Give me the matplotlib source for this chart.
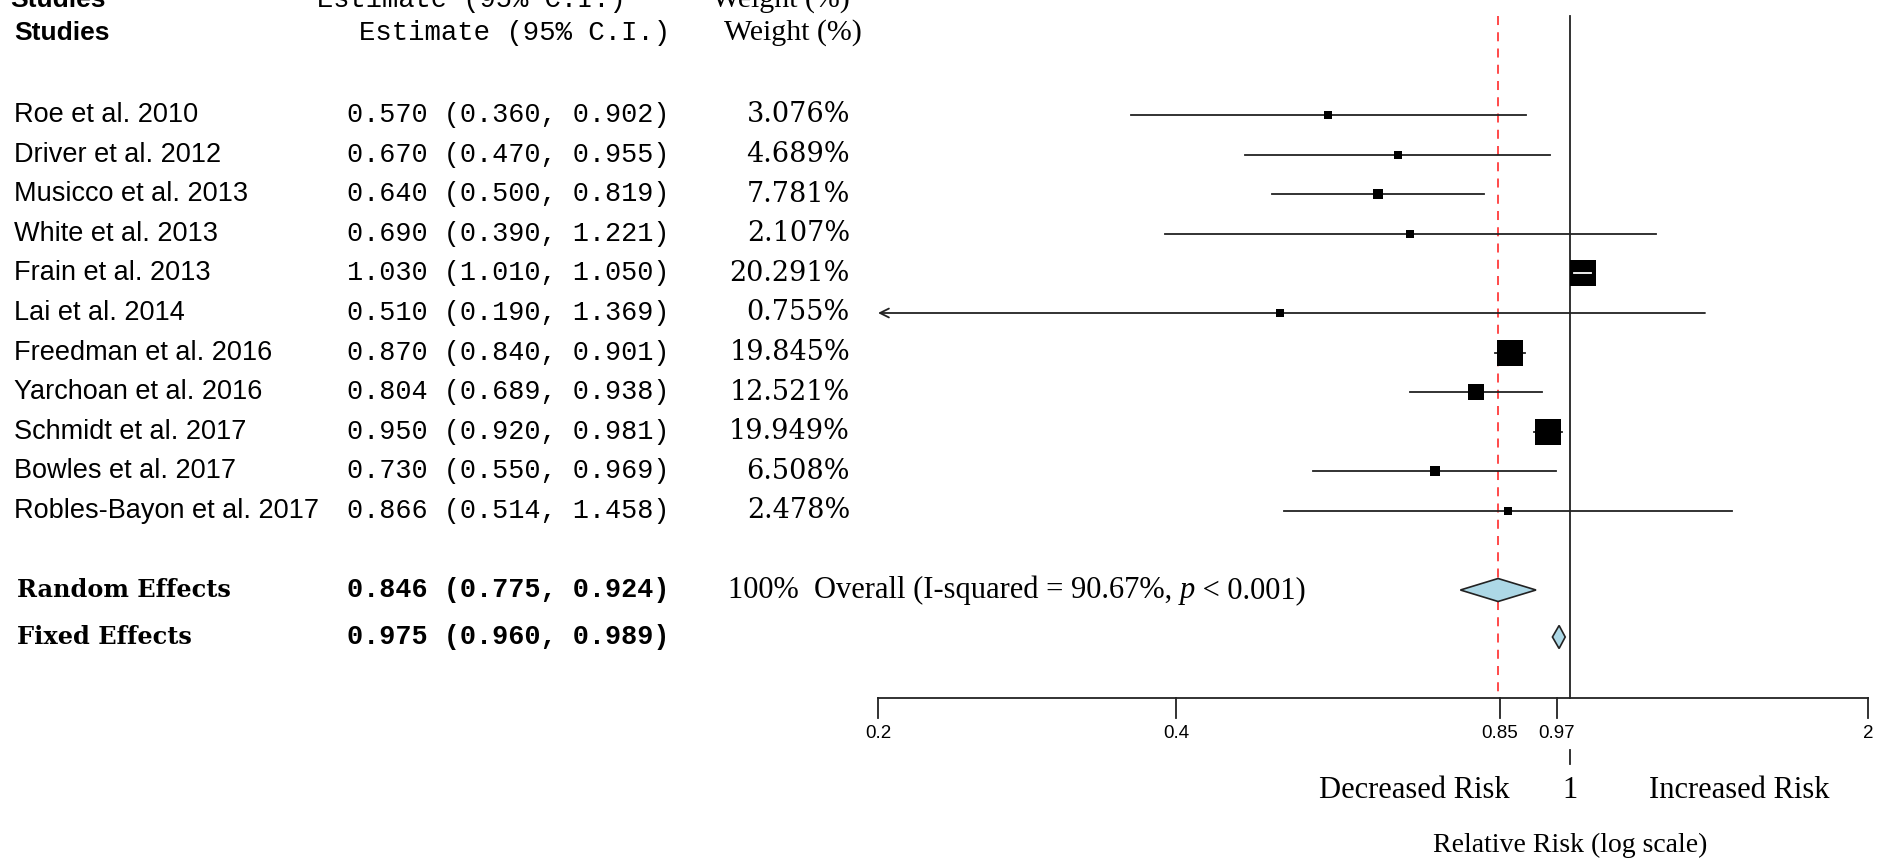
import matplotlib.pyplot as plt
from matplotlib.patches import Polygon
import numpy as np

# Study level data
studies = ['Roe et al. 2010', 'Driver et al. 2012', 'Musicco et al. 2013',
           'White et al. 2013', 'Frain et al. 2013', 'Lai et al. 2014',
           'Freedman et al. 2016', 'Yarchoan et al. 2016', 'Schmidt et al. 2017',
           'Bowles et al. 2017', 'Robles-Bayon et al. 2017']
est = [0.570, 0.670, 0.640, 0.690, 1.030, 0.510, 0.870, 0.804, 0.950, 0.730, 0.866]
lower = [0.360, 0.470, 0.500, 0.390, 1.010, 0.190, 0.840, 0.689, 0.920, 0.550, 0.514]
upper = [0.902, 0.955, 0.819, 1.221, 1.050, 1.369, 0.901, 0.938, 0.981, 0.969, 1.458]
weights = [3.076, 4.689, 7.781, 2.107, 20.291, 0.755, 19.845, 12.521, 19.949, 6.508, 2.478]

# Pooled estimates
summary_labels = ['Random Effects', 'Fixed Effects']
summary_est = [0.846, 0.975]
summary_lower = [0.775, 0.960]
summary_upper = [0.924, 0.989]
i_squared = 90.67

tick_values = [0.2, 0.4, 0.85, 0.97, 2]
tick_labels = ['0.2', '0.4', '0.85', '0.97', '2']

W, H = 1877, 858
fig = plt.figure(figsize=(W / 100, H / 100), dpi=100)

# background axes in pixel units for the text columns
bg = fig.add_axes([0, 0, 1, 1])
bg.set_xlim(0, W)
bg.set_ylim(H, 0)
bg.axis('off')

# forest panel, log x axis
ax = fig.add_axes([878 / W, 0, 990 / W, 1])
ax.set_xscale('log')
ax.set_xlim(0.2, 2)
ax.set_ylim(H, 0)
ax.axis('off')

INK = '#222222'
row_y = 115 + 39.6 * np.arange(len(studies))
sum_y = [590, 637]
axis_y = 698
top_y = 16

# header, plus the clipped copy peeking in at the top edge
bg.text(10, 7, 'Studies', family='Liberation Sans', fontweight='bold', fontsize=19, va='baseline')
bg.text(317, 7, 'Estimate (95% C.I.)', family='Liberation Mono', fontsize=19.5, va='baseline')
bg.text(712, 7, 'Weight (%)', family='Liberation Serif', fontsize=21.5, va='baseline')

bg.text(14, 33, 'Studies', family='Liberation Sans', fontweight='bold', fontsize=19, va='center')
bg.text(359, 33, 'Estimate (95% C.I.)', family='Liberation Mono', fontsize=19.7, va='center')
bg.text(724, 33, 'Weight (%)', family='Liberation Serif', fontsize=21.5, va='center')

# reference lines
ax.plot([1, 1], [top_y, axis_y], color=INK, lw=1.3, clip_on=False)
ax.plot([summary_est[0]] * 2, [top_y, axis_y], color='#ff3b3b', lw=1.3,
        ls=(0, (5, 4)), clip_on=False)

# study rows
for i, name in enumerate(studies):
    y = row_y[i]
    bg.text(14, y, name, family='Liberation Sans', fontsize=19.5, va='center')
    bg.text(347, y, f'{est[i]:.3f} ({lower[i]:.3f}, {upper[i]:.3f})',
            family='Liberation Mono', fontsize=19.4, va='center')
    bg.text(850, y, f'{weights[i]:.3f}%', family='DejaVu Serif', fontsize=19.5,
            va='center', ha='right')

    side = 8 + 0.045 * weights[i] ** 2  # square side in px
    if lower[i] < 0.2:
        ax.annotate('', xy=(0.2, y), xytext=(upper[i], y),
                    arrowprops=dict(arrowstyle='->', lw=1.3, color=INK,
                                    mutation_scale=16, shrinkA=0, shrinkB=0),
                    annotation_clip=False)
    else:
        ax.plot([lower[i], upper[i]], [y, y], color=INK, lw=1.3, clip_on=False)
    ax.plot(est[i], y, marker='s', color='black', markersize=side * 0.72,
            markeredgewidth=0, clip_on=False, zorder=3)
    ci_px = (np.log10(upper[i]) - np.log10(lower[i])) * 990
    if ci_px < side:
        ax.plot([lower[i], upper[i]], [y, y], color='white', lw=1.3, zorder=4)

# pooled rows
for j, lab in enumerate(summary_labels):
    y = sum_y[j]
    bg.text(17, y, lab, family='DejaVu Serif', fontweight='bold', fontsize=17.3, va='center')
    bg.text(347, y, f'{summary_est[j]:.3f} ({summary_lower[j]:.3f}, {summary_upper[j]:.3f})',
            family='Liberation Mono', fontweight='bold', fontsize=19.4, va='center')
    h = 11.5
    ax.add_patch(Polygon([(summary_lower[j], y), (summary_est[j], y - h),
                          (summary_upper[j], y), (summary_est[j], y + h)],
                         closed=True, facecolor='#add8e6', edgecolor=INK, lw=1.2, zorder=3))

t1 = bg.text(728, sum_y[0], f'100%  Overall (I-squared = {i_squared:.2f}%, ',
             family='Liberation Serif', fontsize=22, va='center')
t2 = bg.annotate('p', xy=(1, 0), xycoords=t1, va='bottom', ha='left',
                 family='Liberation Serif', style='italic', fontsize=22)
bg.annotate(' < 0.001)', xy=(1, 0), xycoords=t2, va='bottom', ha='left',
            family='Liberation Serif', fontsize=22)

# x axis
ax.plot([0.2, 2], [axis_y, axis_y], color=INK, lw=1.3, clip_on=False)
for v, lab in zip(tick_values, tick_labels):
    ax.plot([v, v], [axis_y, axis_y + 20], color=INK, lw=1.3, clip_on=False)
    ax.text(v, 733, lab, family='Liberation Sans', fontsize=13.5, ha='center', va='center')
ax.plot([1, 1], [750, 764], color=INK, lw=1.3)
ax.text(1, 790, '1', family='Liberation Serif', fontsize=22, ha='center', va='center')
bg.text(1414, 790, 'Decreased Risk', family='Liberation Serif', fontsize=22,
        ha='center', va='center')
bg.text(1739, 790, 'Increased Risk', family='Liberation Serif', fontsize=22,
        ha='center', va='center')
ax.text(1, 845, 'Relative Risk (log scale)', family='Liberation Serif', fontsize=20,
        ha='center', va='center')

fig.savefig('out.png', dpi=100)
